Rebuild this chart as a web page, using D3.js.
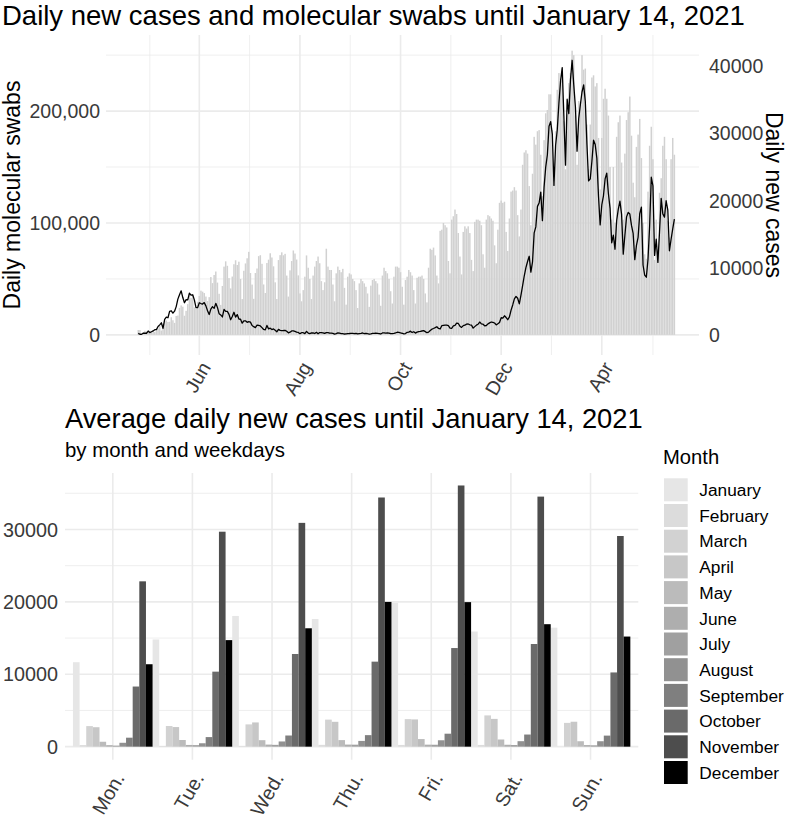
<!DOCTYPE html>
<html><head><meta charset="utf-8">
<script src="https://cdn.jsdelivr.net/npm/d3@7"></script>
<style>
body{margin:0;background:#fff;}
svg{display:block;font-family:"Liberation Sans",Arial,Helvetica,sans-serif;}
</style></head><body>
<svg id="chart" width="787" height="821"></svg>
<script>
// ---------------- DATA ----------------
const firstDay = "2020-02-24";
// daily molecular swabs, Feb 24 2020 .. Jan 14 2021 (one row per week, Mon..Sun)
const swabs = [
4324,4299,964,2427,3681,2966,2466,
2218,2511,3981,2525,3997,5703,7875,
3889,6935,12393,12857,11477,11682,15729,
13063,10695,16884,17236,24109,26336,25180,
17066,21496,27481,36615,33019,35447,24504,
23329,29609,34771,39493,38617,37375,34237,
30271,33713,51680,46244,53495,56609,46720,
36717,26779,43715,60999,65705,61725,50708,
41483,52126,63101,66658,62447,65387,49916,
32003,57272,63827,68456,74208,55263,44935,
32211,55263,59317,70359,71187,63504,45052,
37406,64207,67195,72933,69171,61264,46965,
32016,66866,71255,73766,71133,72410,53000,
34206,57658,65952,75420,72680,67317,53160,
37000,30000,40000,52000,71000,60000,50000,
32000,53000,61000,66000,70000,64000,48000,
40000,47000,77000,61000,58000,58000,45000,
30000,55000,61000,58000,56000,59000,42000,
27000,52000,55000,54000,50000,48000,40000,
24000,46000,50000,48000,46000,43000,37000,
25000,44000,49000,50000,48000,46000,36000,
26000,53000,60000,57000,55000,50000,39000,
28000,52000,61000,61000,60000,56000,43000,
27000,49000,52000,58000,56000,53000,40000,
28000,51000,52000,52000,53000,50000,37000,
29000,60000,77000,76000,78000,71000,53000,
46000,93000,94000,100000,98000,96000,66000,
55000,103000,106000,112000,108000,91000,70000,
54000,92000,97000,95000,97000,91000,67000,
57000,101000,103000,103000,102000,98000,72000,
60000,103000,107000,106000,104000,102000,80000,
64000,94000,118000,120000,118000,119000,92000,
75000,104000,128000,129000,132000,129000,107000,
88000,112000,152000,163000,165000,162000,133000,
98000,144000,177000,170000,182000,183000,161000,
124000,174000,198000,201000,215000,215000,183000,
135000,182000,219000,234000,229000,227000,191000,
148000,197000,225000,234000,254000,250000,196000,
152000,209000,208000,250000,237000,238000,188000,
148000,188000,230000,232000,222000,225000,176000,
130000,176000,211000,220000,211000,196000,150000,
103000,150000,100000,177000,190000,196000,154000,
103000,162000,192000,199000,213000,178000,136000,
123000,168000,179000,193000,158000,100000,72000,
68000,128000,169000,186000,157000,67000,103000,
76000,127000,140000,169000,177000,157000,102000,
87000,157000,176000,161000
];
// daily new cases, same days
const cases = [
221,93,78,250,238,240,566,
342,466,587,769,778,1247,1492,
1797,977,2313,2651,2547,3497,3590,
3233,3526,4207,5322,5986,6557,5560,
4789,5249,5210,6203,5909,5974,5217,
4050,4053,4782,4668,4585,4805,4316,
3599,3039,3836,4204,3951,4694,4092,
3153,2972,2667,3786,3493,3491,3047,
2256,2729,3370,2646,3021,2357,2324,
1739,2091,2086,1872,1965,1900,1389,
1221,1075,1444,1401,1327,1083,802,
744,1402,888,992,789,875,675,
451,813,665,642,652,669,531,
300,397,584,593,516,416,355,
178,318,321,177,518,270,197,
280,283,202,379,163,346,338,
301,210,329,333,251,262,224,
122,190,296,259,175,174,126,
142,187,201,223,235,192,208,
138,193,229,276,188,234,169,
114,162,230,233,249,219,190,
129,282,306,252,275,255,170,
181,212,289,386,379,295,239,
159,190,384,402,552,347,463,
259,412,481,523,574,629,479,
320,403,642,845,947,1071,1210,
953,878,1367,1411,1460,1444,1365,
996,978,1326,1397,1733,1695,1297,
1108,1370,1434,1597,1616,1501,1458,
1008,1229,1452,1585,1907,1638,1587,
1350,1392,1640,1786,1912,1869,1766,
1494,1648,1851,2548,2499,2844,2578,
2257,2677,3678,4458,5372,5724,5456,
4619,5901,7332,8804,10010,10925,11705,
9338,10874,15199,16079,19143,19644,21273,
17012,21994,24991,26831,31084,31758,29907,
22253,28244,30550,34505,37809,39811,32616,
25271,35098,32961,37978,40902,37255,33979,
27354,32191,34283,36176,37242,34767,28337,
22930,23232,25853,29003,28352,26323,20648,
16377,19350,20709,23225,24099,21052,18887,
13720,14842,12756,16999,18727,19903,17938,
12030,14844,17572,18236,17992,16308,15104,
11210,13318,14522,18040,19037,10407,8913,
8585,11224,16202,23477,22211,11831,14245,
10800,15378,20331,18020,17533,19978,18627,
12532,14242,15774,17246
];
const xBreakDates = ["2020-04-01","2020-06-01","2020-08-01","2020-10-01","2020-12-01"];
const xBreakLabels = ["Jun","Aug","Oct","Dec","Apr"];
const swabTicks = [0,100000,200000];
const caseTicks = [0,10000,20000,30000,40000];

// average daily new cases by month (rows) and weekday (Mon..Sun)
const weekdays = ["Mon.","Tue.","Wed.","Thu.","Fri.","Sat.","Sun."];
const months = ["January","February","March","April","May","June","July","August","September","October","November","December"];
const avgJanuary   = [11666,14810,18053,17633,19872,15905,16436];
const avgFebruary  = [221,93,78,250,238,240,null];
const avgMarch     = [2842,2854,3079,3736,3805,4319,3285];
const avgApril     = [2687,2708,3348,3435,3763,3837,3445];
const avgMay       = [679,922,895,907,1050,989,750];
const avgJune      = [205,238,287,287,277,263,221];
const avgJuly      = [141,212,251,274,265,225,184];
const avgAugust    = [537,471,719,795,883,757,751];
const avgSeptember = [1240,1323,1541,1591,1792,1676,1527];
const avgOctober   = [8306,10361,12800,11744,13622,14179,10253];
const avgNovember  = [22837,29691,30912,34416,36076,34539,29097];
const avgDecember  = [11386,14716,16352,19995,19964,16917,15210];
const avgTicks = [0,10000,20000,30000];
const monthGreys = ["#e6e6e6","#dcdcdc","#d2d2d2","#c7c7c7","#bbbbbb","#aeaeae","#a0a0a0","#919191","#7f7f7f","#6a6a6a","#4d4d4d","#000000"];

// ---------------- DRAW ----------------
const svg = d3.select("#chart");
const grid = "#ebebeb", tickCol = "#3a3a3a";
const parse = d3.utcParse("%Y-%m-%d");

// ===== Top chart =====
const T = {left:106, right:699, top:35, bottom:355};
const day0 = parse(firstDay);
const dates = swabs.map((_, i) => d3.utcDay.offset(day0, i));
const breaks = xBreakDates.map(parse);
const x = d3.scaleUtc().domain([breaks[0], breaks[4]]).range([199.3, 601.8]);
x.domain([x.invert(T.left), x.invert(T.right)]).range([T.left, T.right]);
const y = d3.scaleLinear().domain([-18000, 268000]).range([T.bottom, T.top]);
const ySec = d3.scaleLinear().domain(y.domain().map(v => v / 6)).range(y.range());

const gTop = svg.append("g");
const allBreaks = [d3.utcMonth.offset(breaks[0], -2), ...breaks, d3.utcMonth.offset(breaks[4], 2)];
const minorX = d3.pairs(allBreaks).map(([a, b]) => new Date((+a + +b) / 2)).filter(d => x(d) > T.left && x(d) < T.right);
gTop.selectAll(".mnx").data(minorX).join("line")
  .attr("x1", d => x(d)).attr("x2", d => x(d)).attr("y1", T.top).attr("y2", T.bottom)
  .attr("stroke", grid).attr("stroke-width", 0.8);
gTop.selectAll(".mny").data([50000, 150000, 250000]).join("line")
  .attr("x1", T.left).attr("x2", T.right).attr("y1", d => y(d)).attr("y2", d => y(d))
  .attr("stroke", grid).attr("stroke-width", 0.8);
gTop.selectAll(".mjx").data(breaks).join("line")
  .attr("x1", d => x(d)).attr("x2", d => x(d)).attr("y1", T.top).attr("y2", T.bottom)
  .attr("stroke", grid).attr("stroke-width", 1.6);
gTop.selectAll(".mjy").data(swabTicks).join("line")
  .attr("x1", T.left).attr("x2", T.right).attr("y1", d => y(d)).attr("y2", d => y(d))
  .attr("stroke", grid).attr("stroke-width", 1.6);

const dayW = x(d3.utcDay.offset(day0, 1)) - x(day0);
const bw = dayW * 0.9;
gTop.selectAll(".bar").data(swabs).join("rect")
  .attr("x", (d, i) => x(dates[i]) - bw / 2).attr("width", bw)
  .attr("y", d => y(Math.max(0, d))).attr("height", d => Math.abs(y(d) - y(0)))
  .attr("fill", "#d1d1d1");
const line = d3.line().x((d, i) => x(dates[i])).y(d => ySec(d));
gTop.append("path").datum(cases).attr("d", line)
  .attr("fill", "none").attr("stroke", "#000").attr("stroke-width", 1.3).attr("stroke-linejoin", "round");

gTop.selectAll(".ly").data(swabTicks).join("text")
  .attr("x", 100).attr("y", d => y(d)).attr("dy", "0.36em").attr("text-anchor", "end")
  .attr("font-size", 19.5).attr("fill", tickCol).text(d3.format(","));
gTop.selectAll(".ry").data(caseTicks).join("text")
  .attr("x", 709).attr("y", d => ySec(d)).attr("dy", "0.36em").attr("text-anchor", "start")
  .attr("font-size", 19.5).attr("fill", tickCol).text(d => d);
gTop.selectAll(".xl").data(breaks).join("text")
  .attr("transform", d => `translate(${x(d)},${T.bottom + 5}) rotate(-60)`)
  .attr("dy", "0.72em").attr("text-anchor", "end")
  .attr("font-size", 19.5).attr("fill", tickCol).text((d, i) => xBreakLabels[i]);
gTop.append("text").attr("transform", `translate(19.5,${(T.top + T.bottom) / 2}) rotate(-90)`)
  .attr("text-anchor", "middle").attr("font-size", 23).text("Daily molecular swabs");
gTop.append("text").attr("transform", `translate(766,${(T.top + T.bottom) / 2}) rotate(90)`)
  .attr("text-anchor", "middle").attr("font-size", 23).text("Daily new cases");
gTop.append("text").attr("x", 2).attr("y", 25).attr("font-size", 27.5)
  .text("Daily new cases and molecular swabs until January 14, 2021");

// ===== Bottom chart =====
const B = {left:65, right:638.3, top:473, bottom:759.7};
const avgRows = [avgJanuary, avgFebruary, avgMarch, avgApril, avgMay, avgJune, avgJuly,
                 avgAugust, avgSeptember, avgOctober, avgNovember, avgDecember];
const xb = d3.scalePoint().domain(weekdays).range([B.left, B.right]).padding(0.6);
const step = xb.step();
const xm = d3.scaleBand().domain(months).range([-step / 2, step / 2]).padding(0);
const yb = d3.scaleLinear().domain([-1800, 37800]).range([B.bottom, B.top]);
const color = d3.scaleOrdinal().domain(months).range(monthGreys);

const gB = svg.append("g");
gB.selectAll(".bmy").data([5000, 15000, 25000, 35000]).join("line")
  .attr("x1", B.left).attr("x2", B.right).attr("y1", d => yb(d)).attr("y2", d => yb(d))
  .attr("stroke", grid).attr("stroke-width", 0.8);
gB.selectAll(".bjy").data(avgTicks).join("line")
  .attr("x1", B.left).attr("x2", B.right).attr("y1", d => yb(d)).attr("y2", d => yb(d))
  .attr("stroke", grid).attr("stroke-width", 1.6);
gB.selectAll(".bjx").data(weekdays).join("line")
  .attr("x1", d => xb(d)).attr("x2", d => xb(d)).attr("y1", B.top).attr("y2", B.bottom)
  .attr("stroke", grid).attr("stroke-width", 1.6);

const cells = [];
avgRows.forEach((row, mi) => row.forEach((v, wi) => {
  if (v != null) cells.push({month: months[mi], day: weekdays[wi], v});
}));
gB.selectAll(".cell").data(cells).join("rect")
  .attr("x", d => xb(d.day) + xm(d.month)).attr("width", xm.bandwidth())
  .attr("y", d => yb(d.v)).attr("height", d => yb(0) - yb(d.v))
  .attr("fill", d => color(d.month));

gB.selectAll(".byl").data(avgTicks).join("text")
  .attr("x", 58).attr("y", d => yb(d)).attr("dy", "0.36em").attr("text-anchor", "end")
  .attr("font-size", 19.8).attr("fill", tickCol).text(d => d);
gB.selectAll(".bxl").data(weekdays).join("text")
  .attr("transform", d => `translate(${xb(d)},${B.bottom + 11}) rotate(-60)`)
  .attr("dy", "0.72em").attr("text-anchor", "end")
  .attr("font-size", 19.8).attr("fill", tickCol).text(d => d);
gB.append("text").attr("x", 65).attr("y", 427.5).attr("font-size", 27.3)
  .text("Average daily new cases until January 14, 2021");
gB.append("text").attr("x", 65).attr("y", 457).attr("font-size", 20.4)
  .text("by month and weekdays");

const gL = svg.append("g");
gL.append("text").attr("x", 663).attr("y", 464).attr("font-size", 20.2).text("Month");
const keyPitch = 25.7;
gL.selectAll(".key").data(months).join("rect")
  .attr("x", 664).attr("y", (d, i) => 478.3 + i * keyPitch)
  .attr("width", 23.7).attr("height", 23).attr("fill", d => color(d));
gL.selectAll(".klab").data(months).join("text")
  .attr("x", 699.3).attr("y", (d, i) => 478.3 + i * keyPitch + 11.5).attr("dy", "0.36em")
  .attr("font-size", 17.3).text(d => d);
</script>
</body></html>
